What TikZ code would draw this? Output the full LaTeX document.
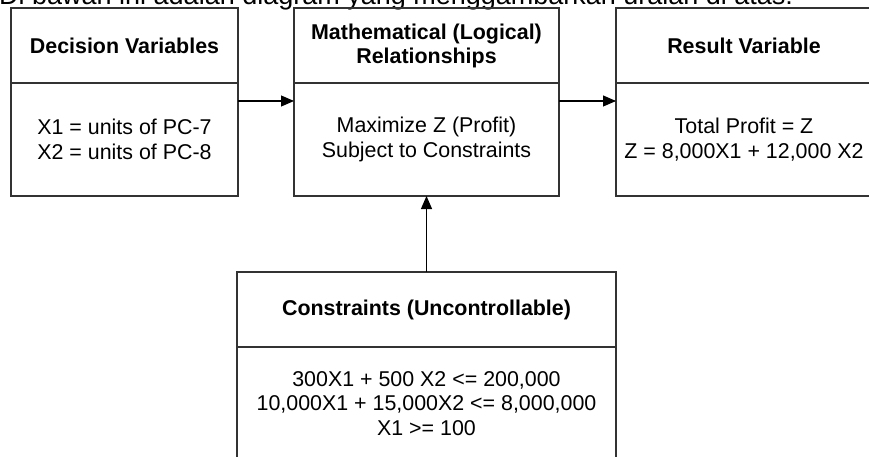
\documentclass[tikz,border=0pt]{standalone}
\usepackage{fontspec}
\setmainfont{Liberation Sans}
\usetikzlibrary{arrows.meta}
\begin{document}
\begin{tikzpicture}[x=1pt,y=-1pt,
  boxline/.style={draw=black!80,line width=1.2pt},
  hdr/.style={boxline,rectangle,anchor=north west,inner sep=0pt,outer sep=0pt,
    align=center,font=\fontsize{21.4}{24}\selectfont\bfseries},
  bodybox/.style={boxline,rectangle,anchor=north,inner sep=0pt,outer sep=0pt,
    align=center,font=\fontsize{21.4}{24.5}\selectfont},
  arr/.style={draw=black,line width=1.1pt,-{Triangle[length=13pt,width=11pt]}}]
\useasboundingbox (0,0) rectangle (869,457);

% caption line above the diagram
\node[anchor=base west,inner sep=0pt,font=\fontsize{27}{30}\selectfont] (cap) at (-1,4.7)
  {Di bawah ini adalah diagram yang menggambarkan uraian di atas:};

% decision variables
\node[hdr,minimum width=227pt,minimum height=75pt] (dvH) at (11,8) {Decision Variables};
\node[bodybox,minimum width=227pt,minimum height=113pt] (dvB) at (dvH.south)
  {X1 = units of PC-7\\X2 = units of PC-8};

% mathematical relationships
\node[hdr,minimum width=265pt,minimum height=75pt] (mrH) at (294,8)
  {Mathematical (Logical)\\Relationships};
\node[bodybox,minimum width=265pt,minimum height=113pt] (mrB) at (mrH.south)
  {Maximize Z (Profit)\\Subject to Constraints};

% result variable
\node[hdr,minimum width=256pt,minimum height=75pt] (rvH) at (616,8) {Result Variable};
\node[bodybox,minimum width=256pt,minimum height=113pt] (rvB) at (rvH.south)
  {Total Profit = Z\\Z = 8,000X1 + 12,000 X2};

% constraints
\node[hdr,minimum width=379pt,minimum height=75pt] (cnH) at (237,272)
  {Constraints (Uncontrollable)};
\node[bodybox,minimum width=379pt,minimum height=113pt,anchor=north] (cnB) at (cnH.south)
  {300X1 + 500 X2 <= 200,000\\10,000X1 + 15,000X2 <= 8,000,000\\X1 >= 100};

% connectors
\draw[arr] ([yshift=-18pt]dvB.north east) -- ([yshift=-18pt]mrB.north west);
\draw[arr] ([yshift=-18pt]mrB.north east) -- ([yshift=-18pt]rvB.north west);
\draw[arr] (cnH.north) -- (mrB.south);
\end{tikzpicture}
\end{document}
